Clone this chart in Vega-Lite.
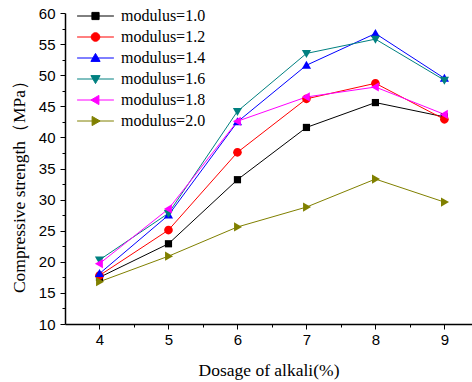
{
  "$schema": "https://vega.github.io/schema/vega-lite/v6.json",
  "width": 407,
  "height": 311,
  "autosize": "none",
  "padding": {"left": 65, "top": 13, "right": 0, "bottom": 58},
  "background": "white",
  "config": {
    "view": {"stroke": null},
    "axis": {
      "grid": false,
      "domainColor": "black",
      "tickColor": "black",
      "labelColor": "black",
      "titleColor": "black",
      "labelFont": "Liberation Sans",
      "labelFontSize": 15,
      "titleFont": "Liberation Serif",
      "titleFontSize": 17.5,
      "titleFontWeight": "normal",
      "domainWidth": 1.5,
      "tickWidth": 1
    },
    "legend": {
      "labelFont": "Liberation Serif",
      "labelFontSize": 16,
      "labelColor": "black",
      "labelLimit": 300,
      "padding": 0,
      "rowPadding": 5,
      "offset": 0
    }
  },
  "data": {
    "values": [
      {"x": 4, "y": 17.5, "m": "modulus=1.0"},
      {"x": 5, "y": 22.9, "m": "modulus=1.0"},
      {"x": 6, "y": 33.2, "m": "modulus=1.0"},
      {"x": 7, "y": 41.6, "m": "modulus=1.0"},
      {"x": 8, "y": 45.6, "m": "modulus=1.0"},
      {"x": 9, "y": 43.3, "m": "modulus=1.0"},
      {"x": 4, "y": 17.8, "m": "modulus=1.2"},
      {"x": 5, "y": 25.1, "m": "modulus=1.2"},
      {"x": 6, "y": 37.6, "m": "modulus=1.2"},
      {"x": 7, "y": 46.2, "m": "modulus=1.2"},
      {"x": 8, "y": 48.7, "m": "modulus=1.2"},
      {"x": 9, "y": 42.9, "m": "modulus=1.2"},
      {"x": 4, "y": 18.1, "m": "modulus=1.4"},
      {"x": 5, "y": 27.5, "m": "modulus=1.4"},
      {"x": 6, "y": 42.5, "m": "modulus=1.4"},
      {"x": 7, "y": 51.6, "m": "modulus=1.4"},
      {"x": 8, "y": 56.7, "m": "modulus=1.4"},
      {"x": 9, "y": 49.5, "m": "modulus=1.4"},
      {"x": 4, "y": 20.3, "m": "modulus=1.6"},
      {"x": 5, "y": 27.8, "m": "modulus=1.6"},
      {"x": 6, "y": 44.2, "m": "modulus=1.6"},
      {"x": 7, "y": 53.5, "m": "modulus=1.6"},
      {"x": 8, "y": 55.8, "m": "modulus=1.6"},
      {"x": 9, "y": 49.2, "m": "modulus=1.6"},
      {"x": 4, "y": 19.7, "m": "modulus=1.8"},
      {"x": 5, "y": 28.5, "m": "modulus=1.8"},
      {"x": 6, "y": 42.6, "m": "modulus=1.8"},
      {"x": 7, "y": 46.5, "m": "modulus=1.8"},
      {"x": 8, "y": 48.1, "m": "modulus=1.8"},
      {"x": 9, "y": 43.7, "m": "modulus=1.8"},
      {"x": 4, "y": 16.8, "m": "modulus=2.0"},
      {"x": 5, "y": 20.9, "m": "modulus=2.0"},
      {"x": 6, "y": 25.6, "m": "modulus=2.0"},
      {"x": 7, "y": 28.8, "m": "modulus=2.0"},
      {"x": 8, "y": 33.3, "m": "modulus=2.0"},
      {"x": 9, "y": 29.6, "m": "modulus=2.0"}
    ]
  },
  "layer": [
    {
      "mark": {"type": "line", "strokeWidth": 1},
      "encoding": {
        "x": {
          "field": "x", "type": "quantitative",
          "scale": {"domain": [3.5, 9.4], "nice": false, "zero": false},
          "axis": {"orient": "bottom", "values": [4, 5, 6, 7, 8, 9], "tickSize": 5, "labelPadding": 3, "title": "Dosage of alkali(%)", "titleY": 37}
        },
        "y": {
          "field": "y", "type": "quantitative",
          "scale": {"domain": [10, 60], "nice": false, "zero": false},
          "axis": {"orient": "left", "values": [10, 15, 20, 25, 30, 35, 40, 45, 50, 55, 60], "tickSize": 5, "labelPadding": 5, "title": "Compressive strength（MPa）", "titleX": -37, "titleY": 169}
        },
        "color": {
          "field": "m", "type": "nominal",
          "scale": {"domain": ["modulus=1.0", "modulus=1.2", "modulus=1.4", "modulus=1.6", "modulus=1.8", "modulus=2.0"], "range": ["#000000", "#ff0000", "#0000ff", "#008080", "#ff00ff", "#808000"]},
          "legend": {
            "orient": "none", "legendX": 22.5, "legendY": -5, "title": null,
            "symbolSize": 64, "symbolStrokeWidth": 1, "labelOffset": 17.5,
            "encode": {
              "symbols": {
                "update": {
                  "shape": {"signal": "datum.value === 'modulus=1.0' ? 'M-4.6,0H4.6M-0.9,-0.9H0.9V0.9H-0.9Z' : datum.value === 'modulus=1.2' ? 'M-4.6,0H4.6M-1.08,0A1.08,1.08 0 1 0 1.08,0A1.08,1.08 0 1 0 -1.08,0Z' : datum.value === 'modulus=1.4' ? 'M-4.6,0H4.6M0,-1.15L1.15,0.85L-1.15,0.85Z' : datum.value === 'modulus=1.6' ? 'M-4.6,0H4.6M0,1.15L1.15,-0.85L-1.15,-0.85Z' : datum.value === 'modulus=1.8' ? 'M-4.6,0H4.6M-1.15,0L0.85,-1.15L0.85,1.15Z' : 'M-4.6,0H4.6M1.15,0L-0.85,-1.15L-0.85,1.15Z'"},
                  "fill": {"scale": "color", "field": "value"},
                  "stroke": {"scale": "color", "field": "value"},
                  "strokeWidth": {"value": 1},
                  "size": {"value": 64},
                  "opacity": {"value": 1}
                }
              }
            }
          }
        }
      }
    },
    {
      "transform": [{"filter": "datum.m == 'modulus=1.0'"}],
      "mark": {"type": "point", "filled": true, "size": 64, "opacity": 1, "color": "#000000", "shape": "M-0.9,-0.9H0.9V0.9H-0.9Z"},
      "encoding": {
        "x": {"field": "x", "type": "quantitative", "axis": null},
        "y": {"field": "y", "type": "quantitative", "axis": null}
      }
    },
    {
      "transform": [{"filter": "datum.m == 'modulus=1.2'"}],
      "mark": {"type": "point", "filled": true, "size": 64, "opacity": 1, "color": "#ff0000", "shape": "M-1.08,0A1.08,1.08 0 1 0 1.08,0A1.08,1.08 0 1 0 -1.08,0Z"},
      "encoding": {
        "x": {"field": "x", "type": "quantitative", "axis": null},
        "y": {"field": "y", "type": "quantitative", "axis": null}
      }
    },
    {
      "transform": [{"filter": "datum.m == 'modulus=1.4'"}],
      "mark": {"type": "point", "filled": true, "size": 64, "opacity": 1, "color": "#0000ff", "shape": "M0,-1.15L1.15,0.85L-1.15,0.85Z"},
      "encoding": {
        "x": {"field": "x", "type": "quantitative", "axis": null},
        "y": {"field": "y", "type": "quantitative", "axis": null}
      }
    },
    {
      "transform": [{"filter": "datum.m == 'modulus=1.6'"}],
      "mark": {"type": "point", "filled": true, "size": 64, "opacity": 1, "color": "#008080", "shape": "M0,1.15L1.15,-0.85L-1.15,-0.85Z"},
      "encoding": {
        "x": {"field": "x", "type": "quantitative", "axis": null},
        "y": {"field": "y", "type": "quantitative", "axis": null}
      }
    },
    {
      "transform": [{"filter": "datum.m == 'modulus=1.8'"}],
      "mark": {"type": "point", "filled": true, "size": 64, "opacity": 1, "color": "#ff00ff", "shape": "M-1.15,0L0.85,-1.15L0.85,1.15Z"},
      "encoding": {
        "x": {"field": "x", "type": "quantitative", "axis": null},
        "y": {"field": "y", "type": "quantitative", "axis": null}
      }
    },
    {
      "transform": [{"filter": "datum.m == 'modulus=2.0'"}],
      "mark": {"type": "point", "filled": true, "size": 64, "opacity": 1, "color": "#808000", "shape": "M1.15,0L-0.85,-1.15L-0.85,1.15Z"},
      "encoding": {
        "x": {"field": "x", "type": "quantitative", "axis": null},
        "y": {"field": "y", "type": "quantitative", "axis": null}
      }
    },
    {
      "mark": {"type": "point", "opacity": 0},
      "encoding": {
        "x": {
          "field": "x", "type": "quantitative",
          "axis": {"orient": "bottom", "values": [4.5, 5.5, 6.5, 7.5, 8.5], "tickSize": 3, "labels": false, "domain": false, "title": null}
        },
        "y": {
          "field": "y", "type": "quantitative",
          "axis": {"orient": "left", "values": [12.5, 17.5, 22.5, 27.5, 32.5, 37.5, 42.5, 47.5, 52.5, 57.5], "tickSize": 3, "labels": false, "domain": false, "title": null}
        }
      }
    }
  ],
  "resolve": {"axis": {"x": "independent", "y": "independent"}}
}
